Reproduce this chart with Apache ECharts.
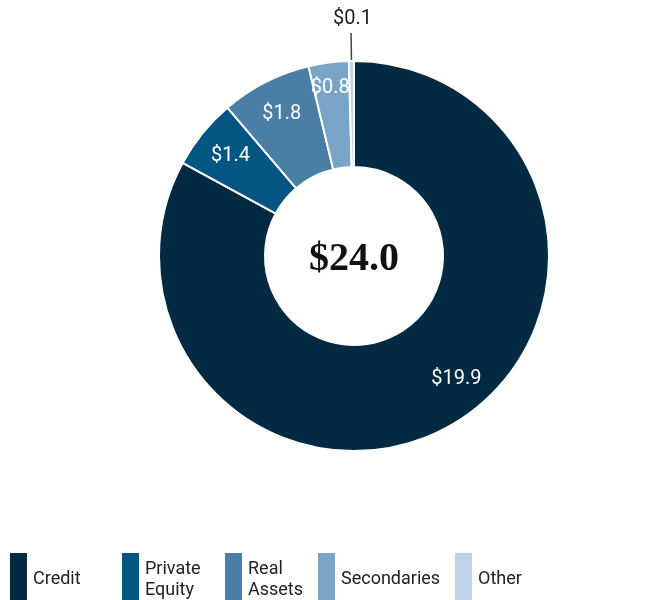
<!DOCTYPE html>
<html>
<head>
<meta charset="utf-8">
<script src="https://cdn.jsdelivr.net/npm/echarts@6/dist/echarts.min.js"></script>
<style>
  html, body { margin: 0; padding: 0; background: #fff; }
  #chart { width: 660px; height: 600px; }
</style>
</head>
<body>
<div id="chart"></div>
<script>
// data
var categories = ['Credit', 'Private Equity', 'Real Assets', 'Secondaries', 'Other'];
var values = [19.9, 1.4, 1.8, 0.8, 0.1];
var colors = ['#022a42', '#045682', '#4a7ea4', '#79a4c8', '#bfd3e6'];
var totalText = '$24.0';
var legendLeft = [8, 120, 223, 316, 453];

var chart = echarts.init(document.getElementById('chart'));

var pieData = [];
var labelData = [];
for (var i = 0; i < categories.length; i++) {
	pieData.push({ name: categories[i], value: values[i], itemStyle: { color: colors[i] } });
	var item = { name: categories[i], value: values[i] };
	if (i == 0) {
		item.label = { offset: [21, -14] };
	}
	if (categories[i] == 'Secondaries') {
		item.label = { offset: [-3, -10] };
	}
	if (categories[i] == 'Other') {
		item.label = { position: 'outside', color: '#222', distance: 2, offset: [26, -14] };
		item.labelLine = { show: true, length: 28, length2: 0, lineStyle: { color: '#444', width: 1.5 } };
	}
	labelData.push(item);
}

var legends = [];
for (var j = 0; j < categories.length; j++) {
	legends.push({
		data: [categories[j]],
		left: legendLeft[j],
		top: 551,
		padding: 0,
		icon: 'rect',
		itemWidth: 19,
		itemHeight: 49,
		selectedMode: false,
		formatter: function (name) {
			var parts = name.split(' ');
			var out = [];
			for (var k = 0; k < parts.length; k++) {
				out.push('{t|' + parts[k] + '}');
			}
			return out.join('\n');
		},
		textStyle: {
			fontFamily: 'Roboto',
			fontSize: 18,
			color: '#222',
			rich: {
				t: {
					fontFamily: 'Roboto',
					fontSize: 18,
					color: '#222',
					lineHeight: 21,
					padding: [6, 0, 0, 0]
				}
			}
		}
	});
}

chart.setOption({
	animation: false,
	title: {
		text: totalText,
		left: 354,
		top: 240,
		padding: 0,
		textAlign: 'center',
		textStyle: {
			fontFamily: 'Liberation Serif',
			fontWeight: 'bold',
			fontSize: 40,
			color: '#111'
		}
	},
	legend: legends,
	series: [
		{
			type: 'pie',
			center: [354, 256],
			radius: [89, 195],
			startAngle: 90,
			silent: true,
			itemStyle: { borderColor: '#fff', borderWidth: 2 },
			label: { show: false },
			labelLine: { show: false },
			data: pieData
		},
		{
			type: 'pie',
			center: [354, 256],
			radius: [117, 195],
			startAngle: 90,
			silent: true,
			itemStyle: { color: 'rgba(0,0,0,0)' },
			label: {
				show: true,
				position: 'inside',
				color: '#fff',
				fontFamily: 'Roboto',
				fontSize: 20,
				formatter: function (p) {
					return '$' + p.value.toFixed(1);
				}
			},
			labelLine: { show: false },
			data: labelData
		}
	]
});
</script>
</body>
</html>
